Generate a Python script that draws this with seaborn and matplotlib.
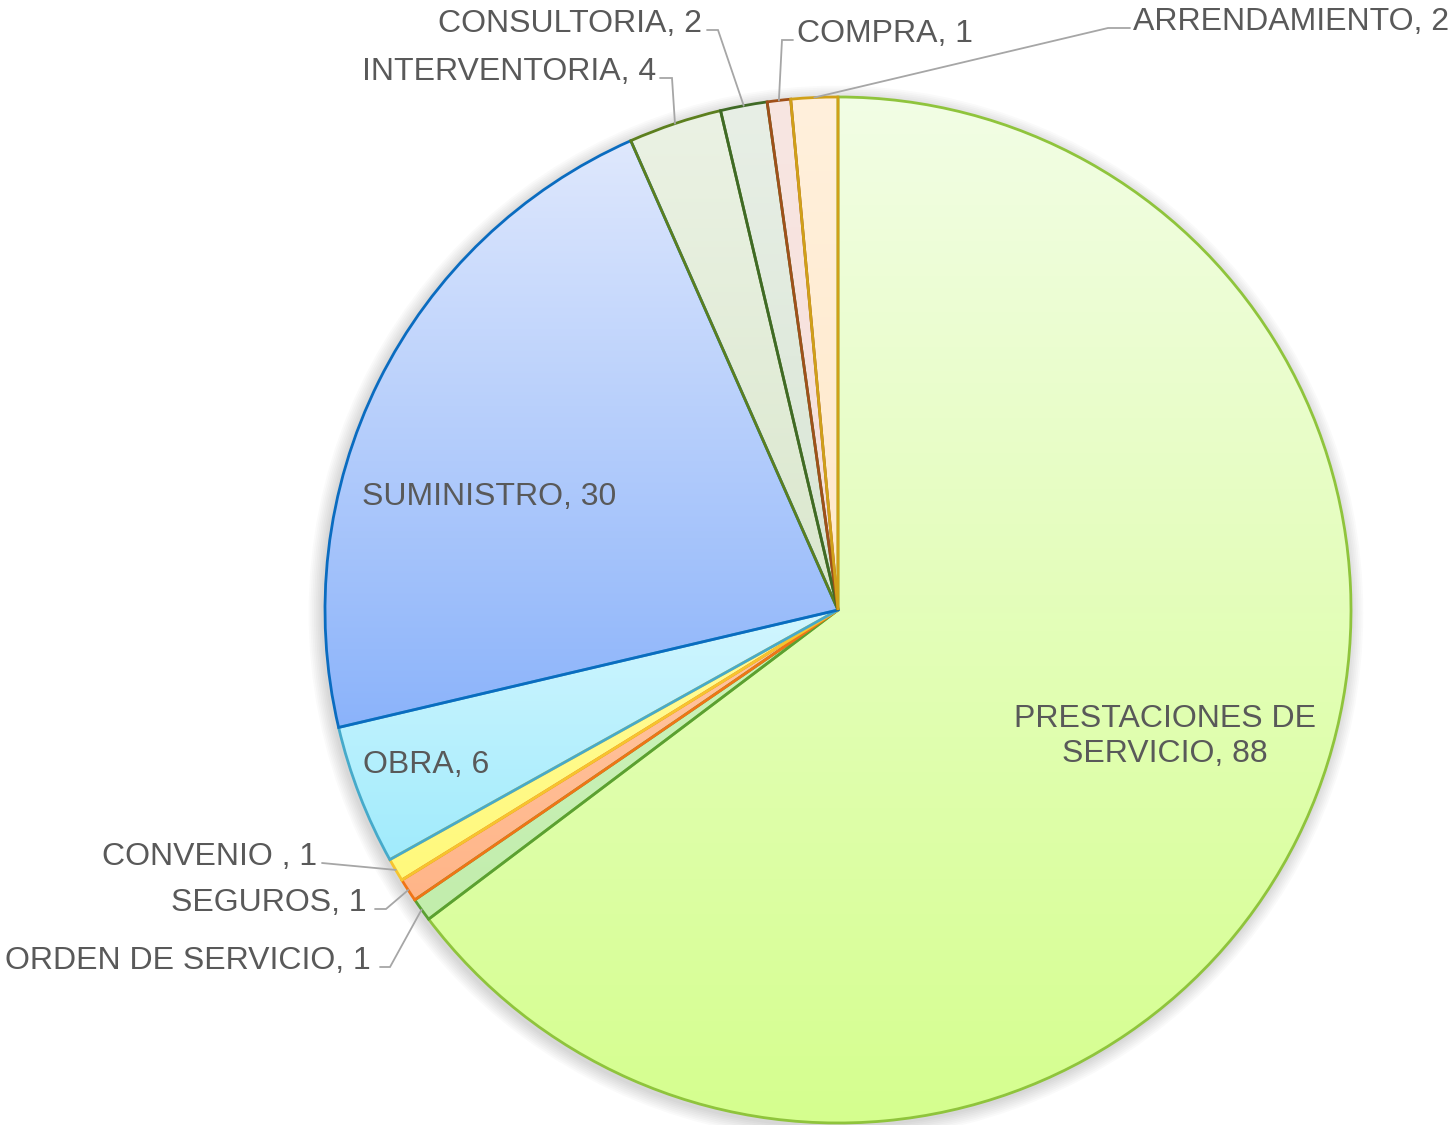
import numpy as np
import matplotlib
matplotlib.use("Agg")
import matplotlib.pyplot as plt
import seaborn as sns
from matplotlib.colors import to_rgb

# ---- data ----
categories = ["PRESTACIONES DE\nSERVICIO", "ORDEN DE SERVICIO", "SEGUROS", "CONVENIO ",
              "OBRA", "SUMINISTRO", "INTERVENTORIA", "CONSULTORIA", "COMPRA", "ARRENDAMIENTO"]
values = [88, 1, 1, 1, 6, 30, 4, 2, 1, 2]

# ---- styles ----
grad_top = ["#F2FDE5", "#CDF3BD", "#FFC7A4", "#FFFC9A", "#D2F6FF", "#DFE8FD",
            "#EBF2E4", "#E8EFE6", "#F8E6E2", "#FFF0DC"]
grad_bot = ["#D5FF8E", "#C2EDAC", "#FFB588", "#FFF97C", "#A0EBFC", "#8BB3FA",
            "#DAE7CD", "#D8E5D4", "#F6DEDA", "#FFE9CA"]
edge_cols = ["#8FC43C", "#5AA032", "#F07416", "#F6C42E", "#46AACA", "#0A6CC0",
             "#5C7F1E", "#3F6A26", "#A0501A", "#D0A018"]

sns.set_theme(style="white")
plt.rcParams["font.family"] = ["Liberation Sans", "DejaVu Sans"]

W, H = 1453, 1125
CX, CY, R = 838.0, 610.0, 513.0

fig = plt.figure(figsize=(W / 100, H / 100), dpi=100)
ax = fig.add_axes([0, 0, 1, 1])


def px(x, y):
    return (x - CX) / R, (CY - y) / R


# soft shadow
for k in range(1, 9):
    sh = plt.Circle((-0.004, -0.006), 1.0 + k * 0.0035, color="#000000", alpha=0.018,
                    zorder=0, lw=0)
    ax.add_patch(sh)

wedges, _ = ax.pie(values, startangle=90, counterclock=False, radius=1.0,
                   center=(0, 0), wedgeprops=dict(linewidth=2.0))

for w, c1, c2, ec in zip(wedges, grad_top, grad_bot, edge_cols):
    verts = w.get_path().vertices
    xmin, xmax = verts[:, 0].min(), verts[:, 0].max()
    ymin, ymax = verts[:, 1].min(), verts[:, 1].max()
    t = np.linspace(0, 1, 256)[:, None]
    a, b = np.array(to_rgb(c2)), np.array(to_rgb(c1))
    img = (a[None, :] * (1 - t) + b[None, :] * t)[:, None, :]
    im = ax.imshow(img, extent=[xmin, xmax, ymin, ymax], origin="lower",
                   aspect="auto", zorder=1, interpolation="bilinear")
    im.set_clip_path(w)
    w.set_facecolor("none")
    w.set_edgecolor(ec)
    w.set_zorder(2)

# ---- labels ----
text_col = "#595959"
line_col = "#A6A6A6"
fs = 23
# layout: (text x px, text center y px, ha, line start x px, elbow x px) ; None = inside label
layout = [
    (1165, 751, "center", None, None),
    (371, 958, "right", 380, 390),
    (367, 900, "right", 375, 386),
    (317, 854, "right", 322, 322),
    (363, 762, "left", None, None),
    (362, 494, "left", None, None),
    (656, 69, "right", 660, 672),
    (702, 21, "right", 707, 718),
    (797, 31, "left", 793, 782),
    (1133, 19, "left", 1130, 1108),
]

total = float(sum(values))
cum = np.cumsum([0] + values)
for i, (cat, v) in enumerate(zip(categories, values)):
    tx, ty, ha, lx, ex = layout[i]
    label = f"{cat}, {v}"
    if "\n" in cat:
        lines = cat.split("\n")
        label = lines[0] + "\n" + f"{lines[1]}, {v}"
        x, y = px(tx, ty + 11)
        ax.text(x, y, label, ha=ha, va="baseline", fontsize=fs, color=text_col,
                linespacing=1.2, multialignment="center", zorder=5)
        continue
    x, y = px(tx, ty + 11)
    ax.text(x, y, label, ha=ha, va="baseline", fontsize=fs, color=text_col, zorder=5)
    if lx is not None:
        mid = (cum[i] + v / 2.0) / total * 2 * np.pi
        axp, ayp = np.sin(mid), np.cos(mid)
        x0, y0 = px(lx, ty + 9)
        x1, y1 = px(ex, ty + 9)
        ax.plot([x0, x1, axp], [y0, y1, ayp], color=line_col, lw=1.3, zorder=4,
                solid_joinstyle="miter")

ax.set_xlim(-CX / R, (W - CX) / R)
ax.set_ylim(-(H - CY) / R, CY / R)
ax.set_aspect("auto")
ax.axis("off")
fig.savefig("out.png", dpi=100, facecolor="white")
